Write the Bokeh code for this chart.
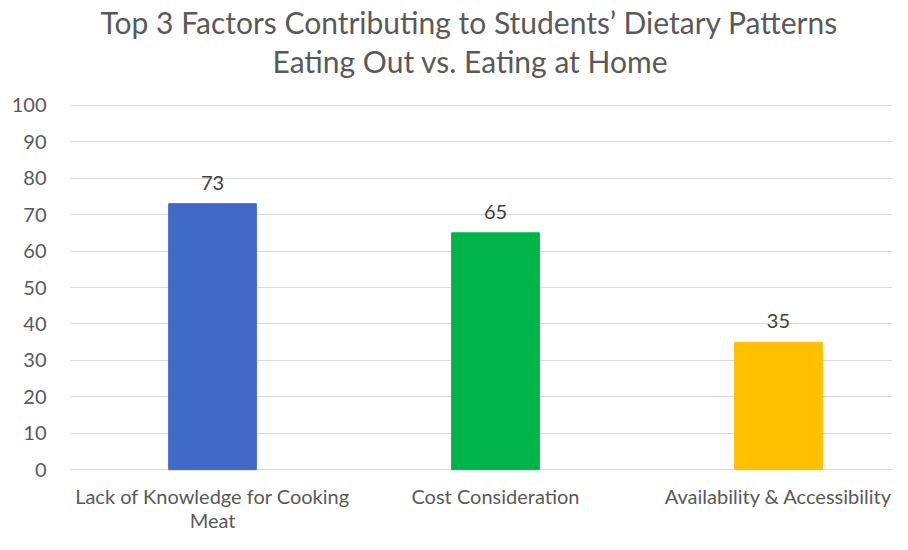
from bokeh.plotting import figure
from bokeh.models import Range1d, FixedTicker, LabelSet, ColumnDataSource, Title
from bokeh.core.properties import value
from bokeh.embed import file_html
from bokeh.resources import INLINE

categories = ["Lack of Knowledge for Cooking\nMeat", "Cost Consideration", "Availability & Accessibility"]
values = [73, 65, 35]
colors = ["#4169C8", "#00B34A", "#FFC000"]
y_ticks = [0, 10, 20, 30, 40, 50, 60, 70, 80, 90, 100]
title_lines = ["Top 3 Factors Contributing to Students\u2019 Dietary Patterns",
               "Eating Out vs. Eating at Home"]

FONT = "Lato"
xs = list(range(len(categories)))

p = figure(width=892, height=534, output_backend="svg", toolbar_location=None,
           x_range=Range1d(-0.502, 2.403), y_range=Range1d(-0.5, 100.5),
           min_border_left=70, min_border_right=0, min_border_top=103, min_border_bottom=58)
p.outline_line_color = None
p.background_fill_color = "white"
p.border_fill_color = "white"

src = ColumnDataSource(dict(x=xs, v=values, c=colors, t=[str(v) for v in values]))
p.vbar(x="x", top="v", width=0.31, color="c", source=src)

labels = LabelSet(x="x", y="v", text="t", source=src, y_offset=21,
                  text_align="center", text_baseline="middle",
                  text_font=value(FONT), text_font_size="20px", text_color="#404040")
p.add_layout(labels)

p.xgrid.grid_line_color = None
p.ygrid.grid_line_color = "#D9D9D9"
p.ygrid.grid_line_width = 1
p.ygrid.ticker = FixedTicker(ticks=y_ticks)

p.yaxis.ticker = FixedTicker(ticks=y_ticks)
p.yaxis.axis_line_color = None
p.yaxis.major_tick_line_color = None
p.yaxis.minor_tick_line_color = None
p.yaxis.major_label_standoff = 18
p.yaxis.major_label_text_font = FONT
p.yaxis.major_label_text_font_size = "20px"
p.yaxis.major_label_text_color = "#595959"

p.xaxis.ticker = FixedTicker(ticks=xs)
p.xaxis.major_label_overrides = {i: c for i, c in zip(xs, categories)}
p.xaxis.axis_line_color = None
p.xaxis.major_tick_line_color = None
p.xaxis.minor_tick_line_color = None
p.xaxis.major_label_standoff = 6
p.xaxis.major_label_text_font = FONT
p.xaxis.major_label_text_font_size = "20px"
p.xaxis.major_label_text_color = "#595959"
p.xaxis.major_label_text_line_height = 1.0

t2 = Title(text=title_lines[1], align="left", offset=202, standoff=50,
           text_font=FONT, text_font_size="30px", text_font_style="normal", text_color="#595959")
t1 = Title(text=title_lines[0], align="left", offset=30, standoff=-48,
           text_font=FONT, text_font_size="30px", text_font_style="normal", text_color="#595959")
p.add_layout(t2, "above")
p.add_layout(t1, "above")

open("out.html", "w").write(file_html(p, INLINE))
